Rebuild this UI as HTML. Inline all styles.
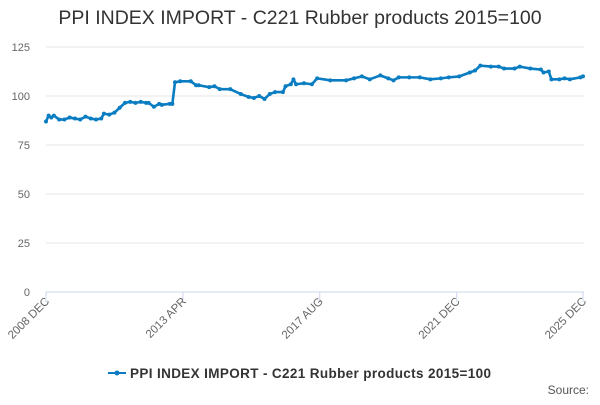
<!DOCTYPE html>
<html><head><meta charset="utf-8"><style>
body{margin:0;background:#fff;font-family:"Liberation Sans",sans-serif}
svg text{font-family:"Liberation Sans",sans-serif}
</style></head><body>
<svg id="chart" width="600" height="400">
<text x="300" y="24" text-anchor="middle" font-size="19.5" fill="#333">PPI INDEX IMPORT - C221 Rubber products 2015=100</text>
<g id="grid"></g><g id="xaxis"></g><g id="series"></g>
<g>
<line x1="108" y1="373" x2="126" y2="373" stroke="#0a7dc2" stroke-width="2"/>
<circle cx="117" cy="373" r="2.5" fill="#0a7dc2"/>
<text x="130" y="378" font-size="13.5" font-weight="bold" fill="#333" textLength="361">PPI INDEX IMPORT - C221 Rubber products 2015=100</text>
</g>
<text x="589" y="394" text-anchor="end" font-size="12" fill="#555">Source:</text>
</svg>
<script>
const months=[0,1,2,3,5,7,9,11,13,15,17,19,21,22,24,26,28,30,32,34,36,38,39,41,43,44,47,48,49,51,55,57,58,62,64,66,70,74,77,79,81,83,85,87,90,91,93,94,95,98,101,103,108,114,117,120,123,127,130,132,134,138,142,146,150,153,157,161,163,165,169,172,174,178,180,184,188,189,191,192,195,197,199,203,204];
const values=[87,90,89,90,88,88,89,88.5,88,89.5,88.5,88,88.5,91,90.5,91.5,94,96.5,97,96.5,97,96.5,96.5,94.5,96,95.5,96,96,107,107.5,107.5,105.5,105.5,104.5,105,103.5,103.5,101,99.5,99,100,98.5,101,102,102,105,106,108.5,106,106.5,106,109,108,108,109,110,108.5,110.5,109,108,109.5,109.5,109.5,108.5,109,109.5,110,112,113,115.5,115,115,114,114,115,114,113.5,112,112.5,108.5,108.5,109,108.5,109.5,110];
const yTicks=[0,25,50,75,100,125];
const xTickMonths=[0,52,104,156,204];
const xTickLabels=["2008 DEC","2013 APR","2017 AUG","2021 DEC","2025 DEC"];
const NS="http://www.w3.org/2000/svg";
const X=m=>46+m*(537/204), Y=v=>292-v*1.96;
function mk(t,a,p){const e=document.createElementNS(NS,t);for(const k in a)e.setAttribute(k,a[k]);p.appendChild(e);return e;}
const g=document.getElementById('grid');
yTicks.forEach(v=>{
 const l=mk('line',{x1:46,x2:584,y1:Y(v),y2:Y(v),stroke:v===0?'#ccd6eb':'#e6e6e6'},g);
 
 
 const t=mk('text',{x:30,y:Y(v)+4,'text-anchor':'end','font-size':11,fill:'#666'},g);
 t.textContent=v;
 
 
});
const xa=document.getElementById('xaxis');
xTickMonths.forEach((m,i)=>{
 mk('line',{x1:X(m),x2:X(m),y1:292,y2:302,stroke:'#ccd6eb'},xa);
 const t=mk('text',{x:X(m)+4,y:302,'text-anchor':'end','font-size':11.5,fill:'#666',transform:`rotate(-45 ${X(m)+4} 302)`},xa);
 t.textContent=xTickLabels[i];
 
 
});
const s=document.getElementById('series');
const pl=mk('polyline',{points:months.map((m,i)=>X(m)+','+Y(values[i])).join(' '),fill:'none',stroke:'#0a7dc2','stroke-width':2.6,'stroke-linejoin':'round'},s);


months.forEach((m,i)=>{
 const c=mk('circle',{cx:X(m),cy:Y(values[i]),r:2,fill:'#0a7dc2'},s);
 
 
});
</script>
</body></html>
